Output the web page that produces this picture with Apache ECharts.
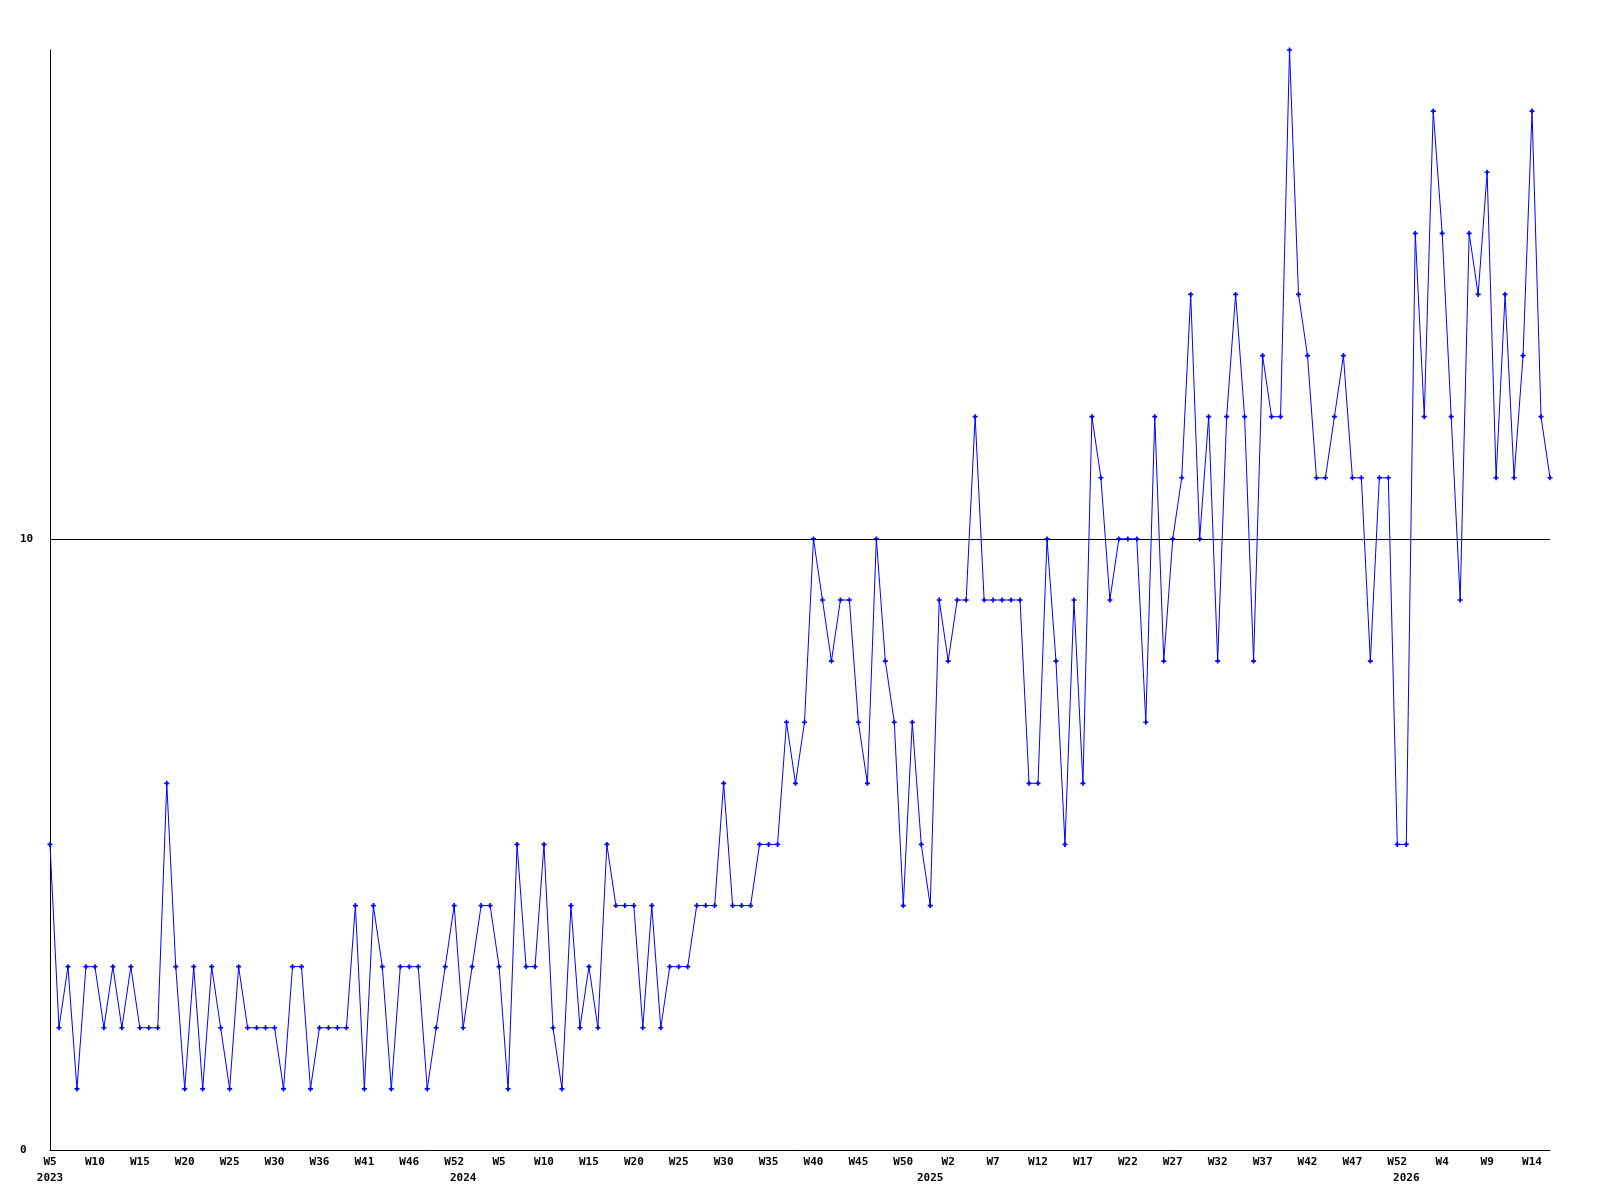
<!DOCTYPE html>
<html>
<head>
<meta charset="utf-8">
<script src="https://cdn.jsdelivr.net/npm/echarts@6/dist/echarts.min.js"></script>
<style>
html,body{margin:0;padding:0;background:#fff;}
#chart{width:1600px;height:1200px;}
</style>
</head>
<body>
<div id="chart"></div>
<script>
// Weekly values, 2023 W5 onward (one per week)
const values = [
  5,2,3,1,3,3,2,3,2,3, 2,2,2,6,3,1,3,1,3,2, 1,3,2,2,2,2,1,3,3,1, 2,2,2,2,4,1,4,3,1,3, 3,3,1,
  2,3,4,2,3,4,4,3,1,5, 3,3,5,2,1,4,2,3,2,5, 4,4,4,2,4,2,3,3,3,4, 4,4,6,4,4,4,5,5,5,
  7,6,7,10,9,8,9,9,7,6, 10,8,7,4,7,5,4,9,8,9, 9,12,9,9,9,9,9,6,6,10, 8,5,9,
  6,12,11,9,10,10,10,7,12,8, 10,11,14,10,12,8,12,14,12,8,
  13,12,12,18,14,13,11,11,12,13, 11,11,8,11,11,5,5,15,12,17, 15,12,9,15,14,16,11,14,11,13, 17,12,11
];
// Week tick labels, one every 5 points
const tickLabels = [
  'W5','W10','W15','W20','W25','W30','W36','W41','W46','W52',
  'W5','W10','W15','W20','W25','W30','W35','W40','W45','W50',
  'W2','W7','W12','W17','W22','W27','W32','W37','W42','W47','W52',
  'W4','W9','W14'
];
const tickStep = 5;
// Year labels and the point index they sit under
const yearLabels = ['2023','2024','2025','2026'];
const yearIndex = [0, 46, 98, 151];
const yTicks = [0, 10];

const categories = values.map((_, i) => i);
const font = {fontFamily: 'DejaVu Sans Mono', fontWeight: 'bold', fontSize: 11, color: '#000'};

const chart = echarts.init(document.getElementById('chart'), null, {renderer: 'canvas'});
chart.setOption({
  animation: false,
  backgroundColor: '#ffffff',
  grid: {left: 50, right: 50, top: 50, bottom: 50, containLabel: false},
  xAxis: [
    {
      type: 'category', data: categories, boundaryGap: false, position: 'bottom',
      axisLine: {show: true, onZero: false, lineStyle: {color: '#000', width: 1}},
      axisTick: {show: false},
      splitLine: {show: false},
      axisLabel: Object.assign({}, font, {
        interval: tickStep - 1, margin: 7,
        formatter: (v, idx) => (idx % tickStep === 0 ? (tickLabels[idx / tickStep] || '') : '')
      })
    },
    {
      type: 'category', data: categories, boundaryGap: false, position: 'bottom',
      axisLine: {show: false}, axisTick: {show: false}, splitLine: {show: false},
      axisLabel: Object.assign({}, font, {
        margin: 23,
        interval: (idx) => yearIndex.indexOf(idx) >= 0,
        formatter: (v, idx) => { const k = yearIndex.indexOf(idx); return k >= 0 ? yearLabels[k] : ''; }
      })
    }
  ],
  yAxis: {
    type: 'value', min: 0, max: 18, interval: 10,
    axisLine: {show: true, lineStyle: {color: '#000', width: 1}},
    axisTick: {show: false},
    splitLine: {show: true, lineStyle: {color: ['transparent', '#000', 'transparent'], width: 1}},
    axisLabel: Object.assign({}, font, {
      margin: 30, align: 'left', showMaxLabel: false,
      formatter: (v) => (yTicks.indexOf(v) >= 0 ? String(v) : '')
    })
  },
  series: [{
    type: 'line',
    xAxisIndex: 0,
    data: values,
    showAllSymbol: true,
    symbol: 'path://M1,0H2V1H3V2H2V3H1V2H0V1H1Z',
    symbolSize: 5,
    itemStyle: {color: '#0000ff'},
    lineStyle: {color: '#0000ff', width: 1},
    clip: true
  }]
});
</script>
</body>
</html>
